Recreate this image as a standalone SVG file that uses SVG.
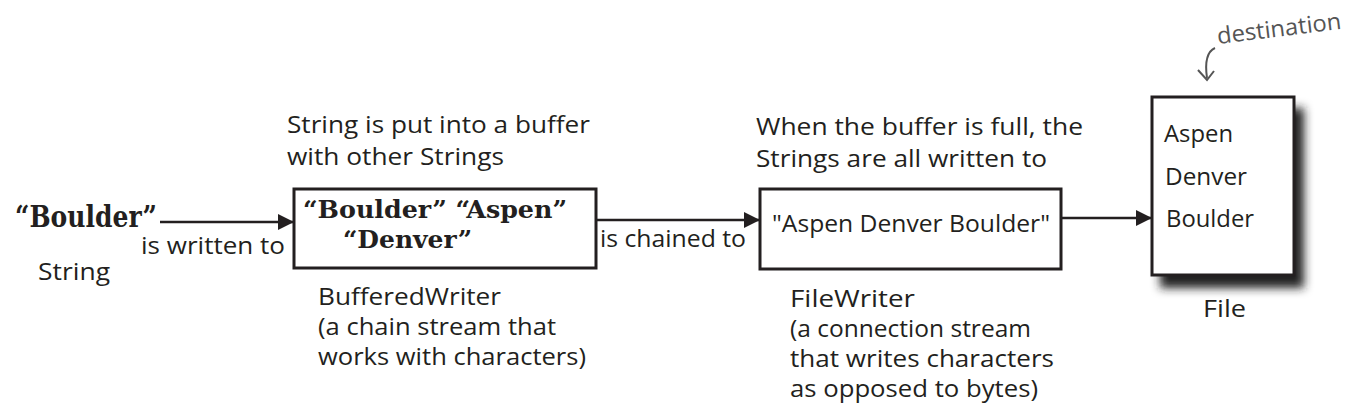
<svg xmlns="http://www.w3.org/2000/svg" width="1354" height="413" viewBox="0 0 1354 413">
<style>
.t{font-family:"Open Sans","DejaVu Sans",sans-serif;font-size:24px;fill:#231f20}
.b{font-family:"DejaVu Serif Condensed","DejaVu Serif",serif;font-weight:bold;font-size:29px;fill:#231f20}
.bi{font-family:"DejaVu Serif Condensed","DejaVu Serif",serif;font-weight:bold;font-size:25px;fill:#231f20}
.box{fill:#fff;stroke:#231f20;stroke-width:3}
.ln{stroke:#231f20;stroke-width:2.5;fill:none}
.ann{font-family:"Open Sans","DejaVu Sans",sans-serif;font-size:23px;fill:#555}
</style>
<defs>
<marker id="ah" markerWidth="16" markerHeight="16" refX="15" refY="8" orient="auto" markerUnits="userSpaceOnUse">
<path d="M0,0 L16,8 L0,16 Z" fill="#231f20"/>
</marker>
<filter id="sh" x="-30%" y="-30%" width="160%" height="160%">
<feGaussianBlur stdDeviation="5"/>
</filter>
</defs>
<g id="connectors">
<line class="ln" x1="160" y1="222" x2="293" y2="222" marker-end="url(#ah)"/>
<line class="ln" x1="596" y1="220" x2="759" y2="220" marker-end="url(#ah)"/>
<line class="ln" x1="1061" y1="218" x2="1151" y2="218" marker-end="url(#ah)"/>
</g>
<g id="string">
<text class="b" x="15" y="227" textLength="142" lengthAdjust="spacingAndGlyphs">“Boulder”</text>
<text class="t" x="38" y="280" textLength="72" lengthAdjust="spacingAndGlyphs">String</text>
</g>
<text class="t" x="141" y="254" textLength="144" lengthAdjust="spacingAndGlyphs">is written to</text>
<g id="bufferedwriter">
<text class="t" x="287" y="133" textLength="303" lengthAdjust="spacingAndGlyphs">String is put into a buffer</text>
<text class="t" x="287" y="165" textLength="217" lengthAdjust="spacingAndGlyphs">with other Strings</text>
<rect class="box" x="294" y="189" width="302" height="79"/>
<text class="bi" x="303" y="218" textLength="264" lengthAdjust="spacingAndGlyphs">“Boulder” “Aspen”</text>
<text class="bi" x="343" y="248" textLength="129" lengthAdjust="spacingAndGlyphs">“Denver”</text>
<text class="t" x="318" y="305" textLength="183" lengthAdjust="spacingAndGlyphs">BufferedWriter</text>
<text class="t" x="318" y="335" textLength="238" lengthAdjust="spacingAndGlyphs">(a chain stream that</text>
<text class="t" x="318" y="365" textLength="268" lengthAdjust="spacingAndGlyphs">works with characters)</text>
</g>
<text class="t" x="600" y="247" textLength="146" lengthAdjust="spacingAndGlyphs">is chained to</text>
<g id="filewriter">
<text class="t" x="756" y="135" textLength="327" lengthAdjust="spacingAndGlyphs">When the buffer is full, the</text>
<text class="t" x="756" y="167" textLength="291" lengthAdjust="spacingAndGlyphs">Strings are all written to</text>
<rect class="box" x="760" y="189" width="301" height="80"/>
<text class="t" x="772" y="232" textLength="278" lengthAdjust="spacingAndGlyphs">"Aspen Denver Boulder"</text>
<text class="t" x="790" y="307" textLength="125" lengthAdjust="spacingAndGlyphs">FileWriter</text>
<text class="t" x="790" y="337" textLength="241" lengthAdjust="spacingAndGlyphs">(a connection stream</text>
<text class="t" x="790" y="367" textLength="264" lengthAdjust="spacingAndGlyphs">that writes characters</text>
<text class="t" x="790" y="397" textLength="248" lengthAdjust="spacingAndGlyphs">as opposed to bytes)</text>
</g>
<g id="file">
<rect x="1160" y="108" width="144" height="180" fill="#222" filter="url(#sh)"/>
<rect class="box" x="1152" y="97" width="142" height="178"/>
<text class="t" x="1164" y="142" textLength="69" lengthAdjust="spacingAndGlyphs">Aspen</text>
<text class="t" x="1165" y="185" textLength="82" lengthAdjust="spacingAndGlyphs">Denver</text>
<text class="t" x="1166" y="227" textLength="88" lengthAdjust="spacingAndGlyphs">Boulder</text>
<text class="t" x="1203" y="317" textLength="43" lengthAdjust="spacingAndGlyphs">File</text>
</g>
<g id="destination">
<text class="ann" x="1218" y="44" transform="rotate(-7 1218 44)" textLength="125" lengthAdjust="spacingAndGlyphs">destination</text>
<path d="M1215,48 C1206,52 1205,64 1207,78" stroke="#555" stroke-width="2" fill="none"/>
<path d="M1198,70 L1207,80 L1214,71" stroke="#555" stroke-width="2" fill="none"/>
</g>
</svg>
